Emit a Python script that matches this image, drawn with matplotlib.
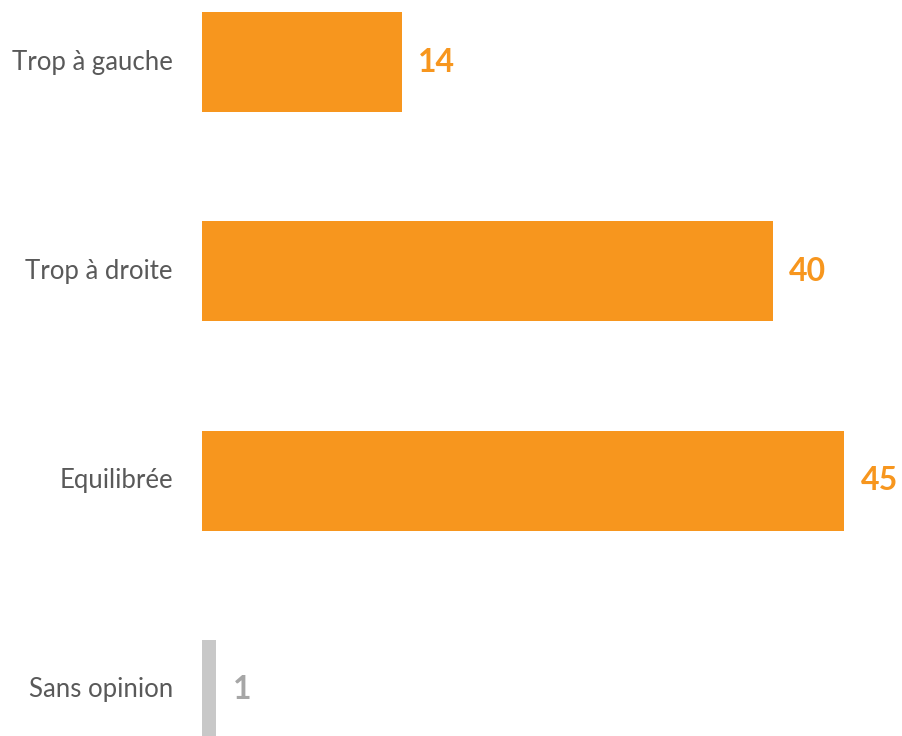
import matplotlib.pyplot as plt

categories = ['Trop à gauche', 'Trop à droite', 'Equilibrée', 'Sans opinion']
values = [14, 40, 45, 1]
bar_colors = ['#F7961E', '#F7961E', '#F7961E', '#C8C8C8']
label_colors = ['#F7961E', '#F7961E', '#F7961E', '#A6A6A6']

plt.rcParams['font.family'] = ['Lato', 'DejaVu Sans']

fig = plt.figure(figsize=(9.03, 7.36), dpi=100)
ax = fig.add_axes([202 / 903, 0, 642 / 903, 1])

pos = list(range(len(categories)))
ax.barh(pos, values, height=0.478, color=bar_colors)
ax.set_xlim(0, 45)
ax.set_ylim(3 + 46 / 209.3, -62 / 209.3)

# value labels just right of each bar
for y, v, c in zip(pos, values, label_colors):
    ax.annotate(str(v), xy=(v, y), xytext=(12, 0), textcoords='offset points',
                ha='left', va='center', fontsize=23, fontweight='bold', color=c,
                annotation_clip=False)

# category names left of the axis
for y, cat in zip(pos, categories):
    ax.annotate(cat, xy=(0, y), xytext=(-21, 0), textcoords='offset points',
                ha='right', va='center', fontsize=18.5, color='#595959',
                annotation_clip=False)

ax.axis('off')
fig.savefig('out.png', dpi=100)
plt.close()
